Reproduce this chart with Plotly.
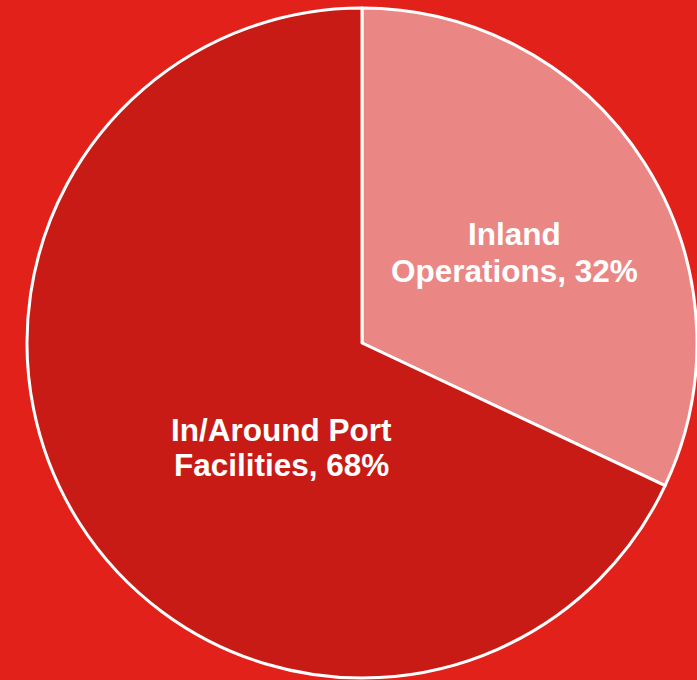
import plotly.graph_objects as go

labels = ["Inland Operations", "In/Around Port Facilities"]
values = [32, 68]
colors = ["#EA8785", "#C81B15"]
label_lines = [["Inland", "Operations, 32%"], ["In/Around Port", "Facilities, 68%"]]

W, H = 697, 680

fig = go.Figure(go.Pie(
    labels=labels,
    values=values,
    sort=False,
    direction="clockwise",
    rotation=0,
    marker=dict(colors=colors, line=dict(color="white", width=3)),
    textinfo="none",
    hoverinfo="label+percent",
    showlegend=False,
    domain=dict(x=[27 / W, 1.0], y=[(H - 678) / H, (H - 8) / H]),
))

# label positions (pixel centers) for each line
pos = [[(514, 234), (514, 271)], [(281, 430), (281, 465)]]
anns = []
for lines, pts in zip(label_lines, pos):
    for txt, (px, py) in zip(lines, pts):
        anns.append(dict(
            x=px / W, y=1 - py / H, xref="paper", yref="paper",
            text="<b>%s</b>" % txt, showarrow=False,
            xanchor="center", yanchor="middle",
            font=dict(family="Liberation Sans, Arial, sans-serif", size=31.5, color="white"),
        ))

fig.update_layout(
    width=W, height=H,
    margin=dict(l=0, r=0, t=0, b=0),
    paper_bgcolor="#E3211B",
    plot_bgcolor="#E3211B",
    annotations=anns,
)

fig.write_html(
    "out.html",
    config={"displayModeBar": False},
    post_script="document.body.style.margin='0';document.body.style.overflow='hidden';",
)
